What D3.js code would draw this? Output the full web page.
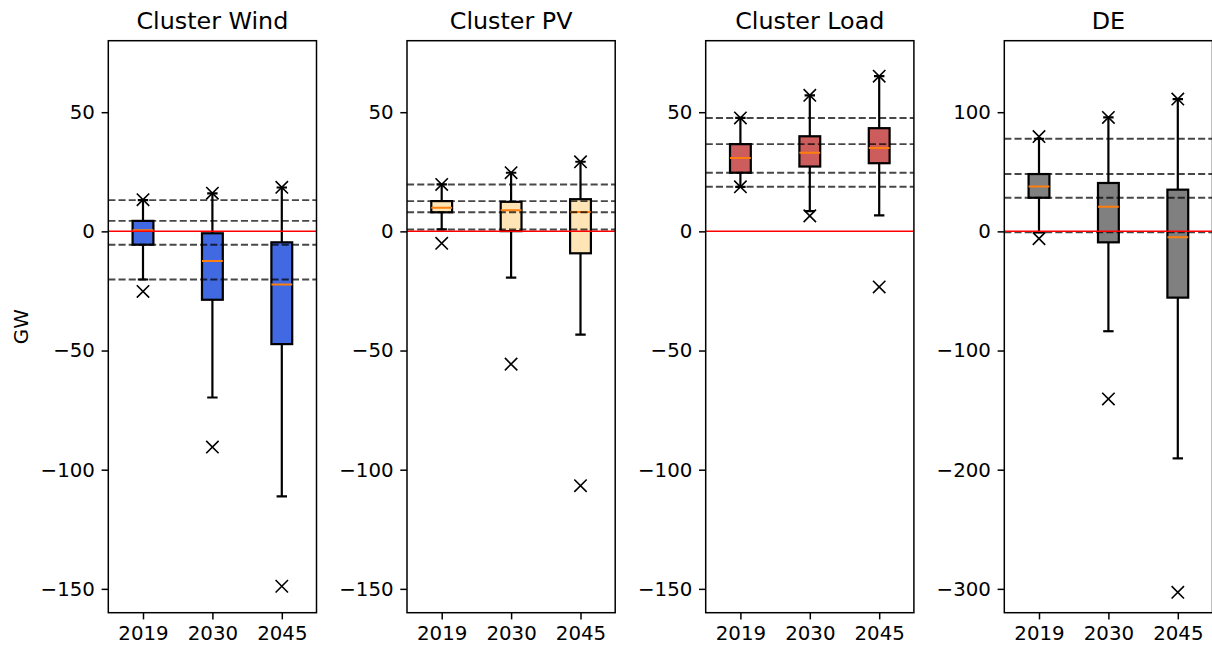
<!DOCTYPE html>
<html>
<head>
<meta charset="utf-8">
<script src="https://cdn.jsdelivr.net/npm/d3@7"></script>
<style>
  html, body { margin: 0; padding: 0; background: #fff; }
  svg { display: block; font-family: "DejaVu Sans", sans-serif; }
</style>
</head>
<body>
<svg id="chart" width="1212" height="649"></svg>
<script>
// ---------------- data ----------------
const years = ["2019", "2030", "2045"];
const panelTitles = ["Cluster Wind", "Cluster PV", "Cluster Load", "DE"];
const panelColors = ["#4169E1", "#FFE4B5", "#CD5C5C", "#808080"];
// each row (per year): [min, whiskerLow, q1, median, q3, whiskerHigh, max]
const windStats = [
  [-25.2, -20.2, -5.6, 0.5, 4.4, 13.1, 13.3],
  [-90.5, -69.7, -28.7, -12.4, -0.8, 15.9, 16.0],
  [-148.9, -111.2, -47.3, -22.3, -4.6, 18.4, 18.5]
];
const pvStats = [
  [-5.0, 0.8, 8.0, 9.9, 12.7, 19.7, 19.7],
  [-55.7, -19.4, 0.1, 8.9, 12.4, 24.6, 24.6],
  [-106.7, -43.3, -9.2, 8.1, 13.5, 29.2, 29.2]
];
const loadStats = [
  [18.7, 18.7, 24.6, 30.8, 36.6, 47.6, 47.6],
  [6.5, 8.5, 27.2, 33.0, 39.9, 57.1, 57.1],
  [-23.3, 6.7, 28.6, 35.0, 43.3, 65.1, 65.1]
];
const deStats = [
  [-6.1, -0.8, 28.2, 37.7, 48.1, 77.7, 79.6],
  [-140.6, -83.8, -9.2, 20.7, 40.6, 95.6, 95.6],
  [-302.9, -190.5, -55.6, -5.0, 35.0, 111.0, 111.0]
];
const clusterDomain = [-160, 80];
const deDomain = [-320, 160];
const clusterTicks = [-150, -100, -50, 0, 50];
const deTicks = [-300, -200, -100, 0, 100];
const yLabel = "GW";

// ---------------- layout ----------------
const panels = [
  { title: panelTitles[0], color: panelColors[0], stats: windStats, domain: clusterDomain, ticks: clusterTicks },
  { title: panelTitles[1], color: panelColors[1], stats: pvStats, domain: clusterDomain, ticks: clusterTicks },
  { title: panelTitles[2], color: panelColors[2], stats: loadStats, domain: clusterDomain, ticks: clusterTicks },
  { title: panelTitles[3], color: panelColors[3], stats: deStats, domain: deDomain, ticks: deTicks }
];
const lefts = [108.3, 407.0, 705.7, 1004.3];
const W = 208.2, topY = 40.7, bottomY = 612.7, H = bottomY - topY;
const fontTick = 19.8, fontTitle = 23.8;
const lw = 2.2;

const svg = d3.select("#chart");

panels.forEach((p, i) => {
  const g = svg.append("g").attr("transform", `translate(${lefts[i]},${topY})`);
  const x = d3.scaleLinear().domain([0.5, 3.5]).range([0, W]);
  const y = d3.scaleLinear().domain(p.domain).range([H, 0]);
  const boxW = x(1.15) - x(0.85);
  const capW = x(1.075) - x(0.925);

  g.append("defs").append("clipPath").attr("id", "clip" + i)
    .append("rect").attr("width", W).attr("height", H);
  const plot = g.append("g").attr("clip-path", `url(#clip${i})`);

  // boxes
  p.stats.forEach((s, j) => {
    const cx = x(j + 1);
    const [mn, wl, q1, med, q3, wh, mx] = s;
    const line = (x1, y1, x2, y2) => plot.append("line")
      .attr("x1", x1).attr("y1", y1).attr("x2", x2).attr("y2", y2)
      .attr("stroke", "#000").attr("stroke-width", lw);
    // whiskers
    line(cx, y(q1), cx, y(wl));
    line(cx, y(q3), cx, y(wh));
    // caps
    line(cx - capW / 2, y(wl), cx + capW / 2, y(wl));
    line(cx - capW / 2, y(wh), cx + capW / 2, y(wh));
    // box
    plot.append("rect")
      .attr("x", cx - boxW / 2).attr("width", boxW)
      .attr("y", y(q3)).attr("height", y(q1) - y(q3))
      .attr("fill", p.color).attr("stroke", "#000").attr("stroke-width", lw);
    // median
    plot.append("line")
      .attr("x1", cx - boxW / 2).attr("x2", cx + boxW / 2)
      .attr("y1", y(med)).attr("y2", y(med))
      .attr("stroke", "#ff7f0e").attr("stroke-width", 2);
    // min / max markers
    [mn, mx].forEach(v => {
      const r = 6.2;
      const my = y(v);
      plot.append("path")
        .attr("d", `M${cx - r},${my - r}L${cx + r},${my + r}M${cx - r},${my + r}L${cx + r},${my - r}`)
        .attr("stroke", "#000").attr("stroke-width", 1.6).attr("fill", "none");
    });
  });

  // reference dashed lines from 2019 values
  const ref = p.stats[0];
  [ref[1], ref[2], ref[4], ref[5]].forEach(v => {
    plot.append("line")
      .attr("x1", 0).attr("x2", W).attr("y1", y(v)).attr("y2", y(v))
      .attr("stroke", "#000").attr("stroke-opacity", 0.72)
      .attr("stroke-width", 1.92).attr("stroke-dasharray", "7.1,3.1");
  });
  // zero line
  plot.append("line")
    .attr("x1", 0).attr("x2", W).attr("y1", y(0)).attr("y2", y(0))
    .attr("stroke", "red").attr("stroke-width", 1.5);

  // axes
  const yAxis = d3.axisLeft(y).tickValues(p.ticks).tickFormat(d3.format("d"))
    .tickSize(6.7).tickPadding(6.7);
  const ya = g.append("g").call(yAxis);
  const xAxis = d3.axisBottom(x).tickValues([1, 2, 3]).tickFormat((d) => years[d - 1])
    .tickSize(6.7).tickPadding(6.7);
  const xa = g.append("g").attr("transform", `translate(0,${H})`).call(xAxis);
  [ya, xa].forEach(a => {
    a.select(".domain").remove();
    a.selectAll(".tick line").attr("stroke", "#000").attr("stroke-width", 1.5);
    a.selectAll(".tick text").attr("fill", "#000").style("font-size", fontTick + "px")
      .style("font-family", "DejaVu Sans, sans-serif");
  });

  // frame
  g.append("rect").attr("width", W).attr("height", H)
    .attr("fill", "none").attr("stroke", "#000").attr("stroke-width", 1.5);

  // title
  g.append("text").attr("x", W / 2).attr("y", -11.3)
    .attr("text-anchor", "middle").style("font-size", fontTitle + "px")
    .attr("fill", "#000").text(p.title);
});

svg.append("text")
  .attr("transform", `translate(21,${(topY + bottomY) / 2}) rotate(-90)`)
  .attr("text-anchor", "middle").attr("dominant-baseline", "central")
  .style("font-size", fontTick + "px").attr("fill", "#000").text(yLabel);
</script>
</body>
</html>
